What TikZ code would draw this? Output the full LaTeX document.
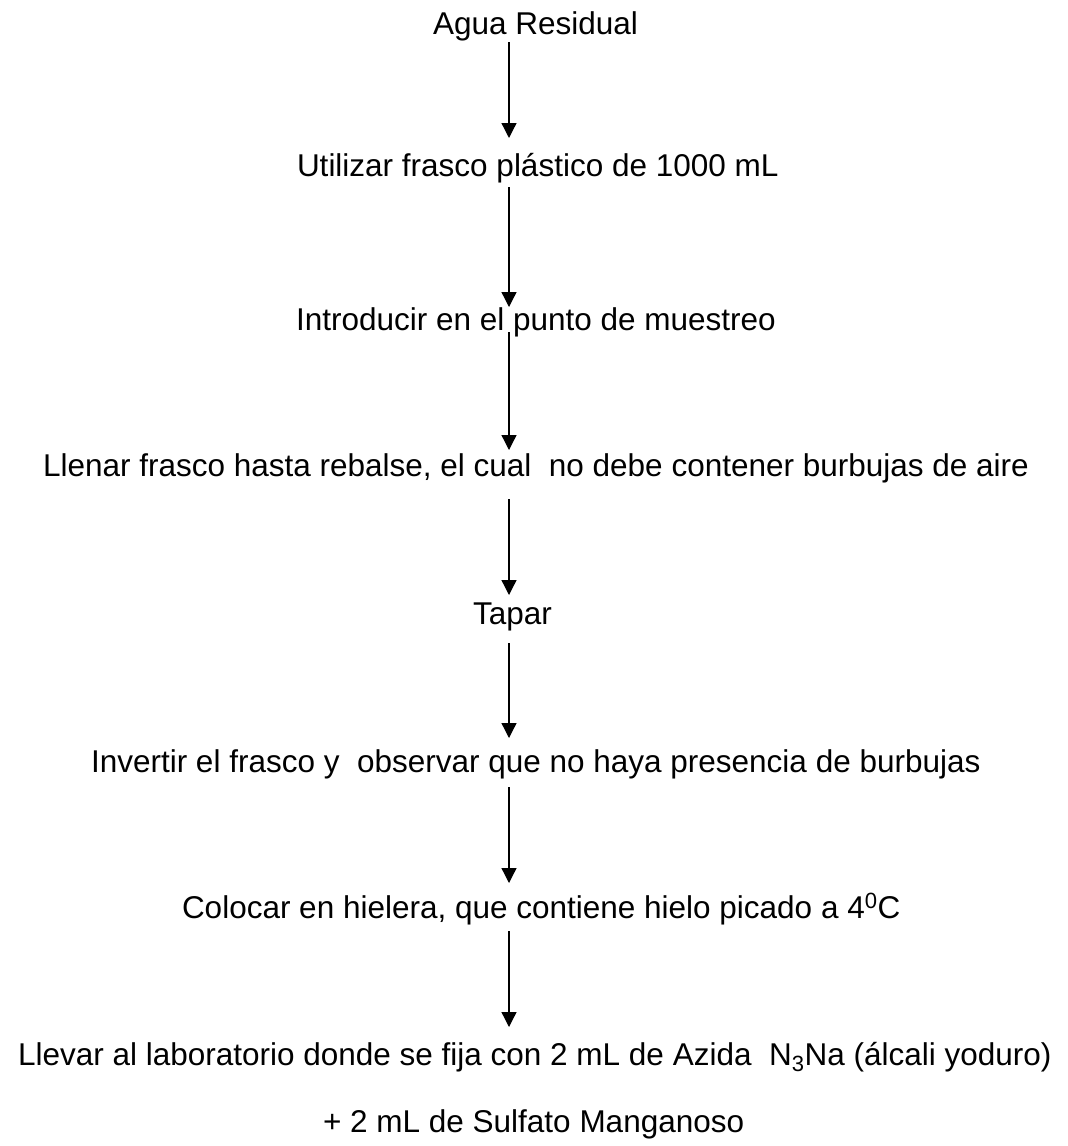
\documentclass[tikz,border=0pt]{standalone}
\usepackage{fontspec}
\setmainfont{Liberation Sans}
\usetikzlibrary{arrows.meta}
\begin{document}
\begin{tikzpicture}[x=1pt,y=-1pt,
  lbl/.style={anchor=base west,inner sep=0pt,outer sep=0pt,text height=23pt,text depth=7pt,
    font=\fontsize{31.5}{38}\selectfont},
  arr/.style={line width=1.3pt,-{Triangle[width=15pt,length=15pt]}}]
\useasboundingbox (0,0) rectangle (1068,1146);
\coordinate (axis) at (509,0);
\node[lbl] (n1) at (433,34) {Agua Residual};
\node[lbl] (n2) at (297,176) {Utilizar frasco plástico de 1000 mL};
\node[lbl] (n3) at (296,330) {Introducir en el punto de muestreo};
\node[lbl] (n4) at (43,476) {Llenar frasco hasta rebalse, el cual\ \ no debe contener burbujas de aire};
\node[lbl] (n5) at (473,624) {Tapar};
\node[lbl] (n6) at (91,772) {Invertir el frasco y\ \ observar que no haya presencia de burbujas};
\node[lbl] (n7) at (182,918) {Colocar en hielera, que contiene hielo picado a 4\textsuperscript{0}C};
\node[lbl] (n8) at (18,1065) {Llevar al laboratorio donde se fija con 2 mL de Azida\ \ N\textsubscript{3}Na (álcali yoduro)};
\node[lbl] (n9) at (323,1132) {+ 2 mL de Sulfato Manganoso};
\draw[arr,shorten <=1pt,shorten >=15pt] (n1.south -| axis) -- (n2.north -| axis);
\draw[arr,shorten <=4pt,shorten >=0pt] (n2.south -| axis) -- (n3.north -| axis);
\draw[arr,shorten <=-5pt,shorten >=3pt] (n3.south -| axis) -- (n4.north -| axis);
\draw[arr,shorten <=16pt,shorten >=6pt] (n4.south -| axis) -- (n5.north -| axis);
\draw[arr,shorten <=12pt,shorten >=11pt] (n5.south -| axis) -- (n6.north -| axis);
\draw[arr,shorten <=8pt,shorten >=12pt] (n6.south -| axis) -- (n7.north -| axis);
\draw[arr,shorten <=6pt,shorten >=15pt] (n7.south -| axis) -- (n8.north -| axis);
\end{tikzpicture}
\end{document}
